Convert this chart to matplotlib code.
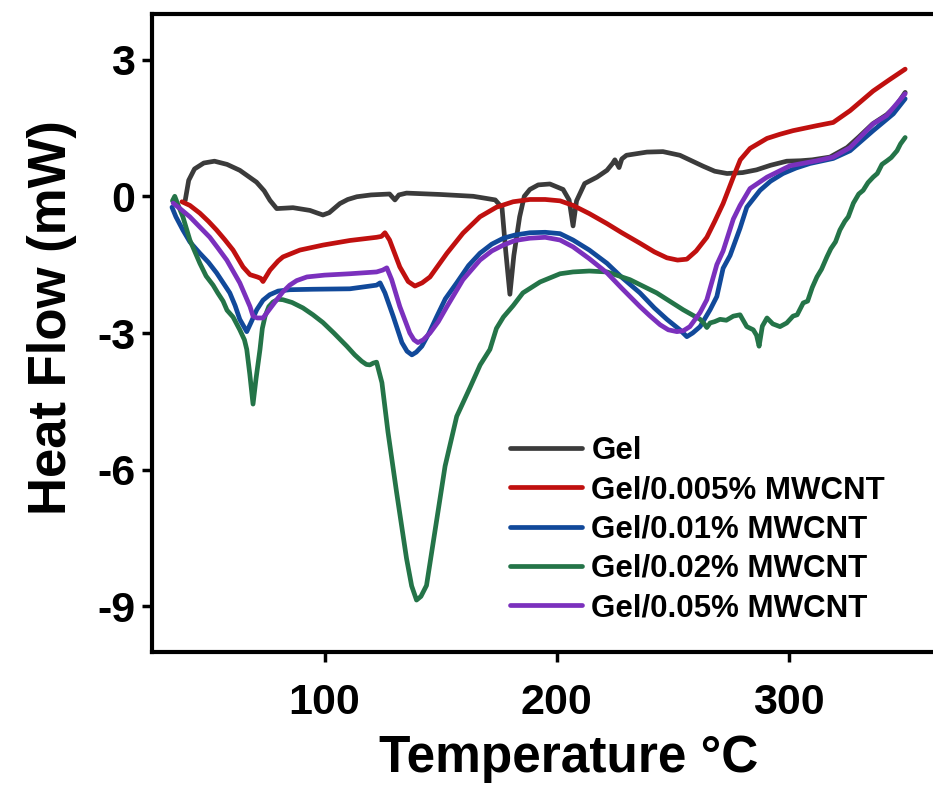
import matplotlib
matplotlib.use("Agg")
import matplotlib.pyplot as plt

plt.rcParams['font.family'] = ['Liberation Sans', 'DejaVu Sans']
plt.rcParams['font.weight'] = 'bold'

# ---- data ----
gel_T = [40.0, 41.5, 44, 48, 52.6, 58, 63.5, 70.7, 74, 76.5, 79.4, 83, 86.4, 93.7, 97, 99.3, 102, 106.6,
         110, 113.9, 120, 128, 130.3, 132, 135.3, 149.7, 164, 170, 173.5, 176.4, 178, 179.8, 181.5, 184,
         186, 188.4, 192, 197, 202.7, 205.3, 207, 208.5, 212, 217.3, 221.6, 224, 225, 226.8, 228, 230,
         238.8, 245.7, 253, 263, 268, 273.3, 280, 286, 292, 299, 305, 310, 317.6, 325, 330, 336, 342, 346, 350]
gel_H = [-0.09, 0.35, 0.6, 0.73, 0.77, 0.70, 0.57, 0.31, 0.12, -0.09, -0.27, -0.26, -0.25, -0.31, -0.37,
         -0.41, -0.36, -0.16, -0.07, -0.01, 0.03, 0.05, -0.08, 0.03, 0.07, 0.04, 0.0, -0.05, -0.08, -0.25,
         -1.2, -2.15, -1.3, -0.45, 0.0, 0.15, 0.25, 0.27, 0.15, -0.08, -0.65, -0.1, 0.28, 0.42, 0.57, 0.72,
         0.8, 0.63, 0.82, 0.9, 0.97, 0.98, 0.9, 0.66, 0.55, 0.5, 0.52, 0.58, 0.68, 0.77, 0.78, 0.80, 0.86,
         1.07, 1.3, 1.59, 1.79, 1.98, 2.28]

red_T = [38.6, 42, 46.3, 50, 53.5, 57, 60.6, 64.9, 67.9, 71, 72.5, 73.5, 76.5, 80, 82.1, 89.4, 99.4, 110.9,
         122.4, 124.5, 126, 128, 132.4, 136, 138.9, 142, 145.4, 152.7, 159.6, 166.9, 174, 181.2, 188.4, 195,
         201.4, 207, 214, 221.6, 228, 235.8, 242, 247.4, 252, 256, 260, 264.6, 268, 271.6, 276, 279, 283.2,
         290.5, 296, 301.7, 312, 319, 326.3, 336.2, 343, 350]
red_H = [-0.12, -0.2, -0.37, -0.55, -0.74, -0.95, -1.18, -1.55, -1.72, -1.77, -1.8, -1.87, -1.62, -1.42,
         -1.33, -1.18, -1.07, -0.97, -0.9, -0.88, -0.8, -0.96, -1.55, -1.87, -1.97, -1.9, -1.77, -1.25, -0.81,
         -0.45, -0.24, -0.12, -0.07, -0.07, -0.1, -0.2, -0.38, -0.6, -0.8, -1.03, -1.22, -1.35, -1.4, -1.38,
         -1.2, -0.9, -0.55, -0.16, 0.42, 0.8, 1.05, 1.27, 1.36, 1.44, 1.55, 1.62, 1.88, 2.31, 2.55, 2.79]

blue_T = [34.3, 36, 39, 42, 46.3, 50, 53.5, 57, 59.2, 61.5, 63.5, 66.5, 68.5, 70.8, 73.5, 76.4, 80, 85, 95,
          110.9, 122.4, 123.9, 126, 129.6, 133.3, 135.5, 137.6, 139.5, 141.9, 145, 148.3, 152, 156.9, 162,
          166.9, 172, 177, 182, 188.4, 195, 201.4, 207, 214, 221.6, 228, 235.8, 242, 247.4, 253, 256, 258.5,
          261.7, 266, 268.9, 271.6, 274.6, 278.9, 281.8, 287.5, 292, 297.4, 303, 309, 319, 326.3, 336.2,
          344.9, 350]
blue_H = [-0.24, -0.45, -0.74, -1.0, -1.25, -1.45, -1.68, -1.95, -2.12, -2.4, -2.7, -2.97, -2.75, -2.49,
          -2.28, -2.16, -2.08, -2.05, -2.04, -2.03, -1.95, -1.9, -2.12, -2.64, -3.21, -3.4, -3.48, -3.42,
          -3.29, -3.0, -2.64, -2.25, -1.9, -1.52, -1.25, -1.05, -0.92, -0.85, -0.8, -0.79, -0.82, -0.96,
          -1.18, -1.47, -1.78, -2.12, -2.45, -2.7, -2.93, -3.08, -3.0, -2.86, -2.49, -2.2, -1.58, -1.3, -0.7,
          -0.24, 0.13, 0.33, 0.5, 0.62, 0.72, 0.83, 1.0, 1.44, 1.81, 2.14]

green_T = [34.5, 35.5, 37, 39, 42, 46.3, 49, 52, 54, 56.3, 58, 60.6, 63.5, 65.5, 66.5, 67.8, 69.2, 70.5,
           72.2, 73.2, 74.4, 76, 77.8, 80, 82.1, 86, 90.7, 95, 99.3, 104, 109.6, 113, 116, 118, 119.5, 121,
           122.4, 124.7, 127.3, 131, 135.3, 137.5, 139.6, 141.5, 143.9, 147.5, 151.9, 156.9, 162.6, 167,
           171.2, 174, 177, 181.2, 185.4, 192.8, 201.4, 207, 214, 221.6, 231.5, 243, 254.4, 261.7, 263.5,
           264.6, 266, 268, 270.3, 273, 276, 278.9, 280, 281.8, 284.6, 286, 287.1, 288.5, 290.5, 293, 296.1,
           299, 301.7, 303.5, 306.1, 308, 310, 312, 314, 316.3, 318, 320, 321.9, 324, 325.5, 327.7, 330,
           331.9, 334, 336.2, 338, 340, 342.2, 344, 346.5, 348, 350]
green_H = [-0.1, 0.0, -0.2, -0.45, -0.96, -1.47, -1.75, -1.95, -2.12, -2.3, -2.5, -2.65, -2.93, -3.15,
           -3.36, -3.9, -4.56, -4.0, -3.36, -2.9, -2.63, -2.42, -2.32, -2.26, -2.27, -2.33, -2.45, -2.6,
           -2.77, -3.0, -3.29, -3.48, -3.62, -3.69, -3.7, -3.66, -3.64, -4.09, -5.17, -6.49, -7.95, -8.55,
           -8.86, -8.78, -8.54, -7.36, -5.92, -4.83, -4.2, -3.7, -3.36, -2.9, -2.65, -2.4, -2.12, -1.88,
           -1.7, -1.66, -1.64, -1.66, -1.83, -2.12, -2.49, -2.7, -2.8, -2.88, -2.78, -2.75, -2.7, -2.72,
           -2.63, -2.6, -2.7, -2.86, -2.93, -3.05, -3.29, -2.85, -2.67, -2.8, -2.86, -2.78, -2.63, -2.6,
           -2.34, -2.3, -2.0, -1.77, -1.6, -1.33, -1.15, -1.0, -0.74, -0.55, -0.45, -0.15, 0.05, 0.13, 0.3,
           0.42, 0.5, 0.7, 0.78, 0.85, 1.0, 1.15, 1.29]

purple_T = [34.8, 38, 42, 46, 50.6, 54, 57.9, 63.5, 67.9, 69.2, 71, 73.5, 76, 79.4, 82, 85, 88, 92.4, 100,
            110.9, 122.4, 125, 126.8, 128.9, 132.4, 136.7, 138.5, 140.2, 142.5, 145.4, 149, 152.7, 159.6,
            166.9, 172, 177, 182, 188.4, 195, 201.4, 207, 214, 221.6, 228, 235.8, 240, 244.5, 248, 251.7,
            254.5, 257.3, 261.7, 264.6, 268.9, 271.6, 276, 278.9, 283.2, 290.5, 300.4, 312, 319, 326.3,
            336.2, 342, 350]
purple_H = [-0.15, -0.28, -0.45, -0.66, -0.9, -1.13, -1.4, -1.9, -2.42, -2.63, -2.67, -2.67, -2.5, -2.27,
            -2.1, -1.95, -1.85, -1.77, -1.73, -1.7, -1.66, -1.62, -1.57, -1.83, -2.42, -3.0, -3.15, -3.21,
            -3.15, -3.0, -2.75, -2.42, -1.83, -1.4, -1.2, -1.07, -0.97, -0.92, -0.9, -0.96, -1.11, -1.37,
            -1.68, -2.02, -2.42, -2.62, -2.82, -2.93, -2.97, -2.95, -2.86, -2.55, -2.27, -1.5, -1.2, -0.5,
            -0.2, 0.17, 0.42, 0.67, 0.78, 0.86, 1.07, 1.59, 1.77, 2.25]

labels = ["Gel", "Gel/0.005% MWCNT", "Gel/0.01% MWCNT", "Gel/0.02% MWCNT", "Gel/0.05% MWCNT"]
colors = ["#3b3b3b", "#c0100f", "#11499a", "#247448", "#7b30bd"]
x_ticks = [100, 200, 300]
y_ticks = [3, 0, -3, -6, -9]

# ---- figure ----
fig = plt.figure(figsize=(9.33, 7.92), dpi=100)
ax = fig.add_axes([152/933, 1 - 652/792, (986 - 152)/933, (652 - 14)/792])

series = [(gel_T, gel_H), (red_T, red_H), (blue_T, blue_H), (green_T, green_H), (purple_T, purple_H)]
for (t, h), lab, c in zip(series, labels, colors):
    ax.plot(t, h, color=c, lw=3.4, label=lab, solid_joinstyle='round', solid_capstyle='round')

ax.set_xlim(25.7, 384.8)
ax.set_ylim(-10, 4)
ax.set_xticks(x_ticks)
ax.set_yticks(y_ticks)
ax.set_xticklabels([str(v) for v in x_ticks], fontsize=31, fontweight='bold')
ax.set_yticklabels([str(v) for v in y_ticks], fontsize=31, fontweight='bold')
ax.tick_params(axis='both', direction='out', length=7, width=2.5, pad=5)
ax.tick_params(axis='x', pad=15)

for s in ['left', 'bottom', 'top']:
    ax.spines[s].set_linewidth(3.0)
ax.spines['right'].set_visible(False)

ax.set_xlabel("Temperature °C", fontsize=37, fontweight='bold', labelpad=8)
ax.set_ylabel("Heat Flow (mW)", fontsize=38, fontweight='bold')
ax.yaxis.set_label_coords((77 - 152) / 834, (652 - 318) / 638)

leg = ax.legend(loc='upper left', bbox_to_anchor=(0.4293, 0.339), frameon=False,
                prop={'size': 22.5, 'weight': 'bold'}, handlelength=2.3, handletextpad=0.3,
                labelspacing=0.3, borderpad=0, borderaxespad=0)
for line in leg.get_lines():
    line.set_linewidth(3.4)

fig.savefig("out.png", dpi=100)
